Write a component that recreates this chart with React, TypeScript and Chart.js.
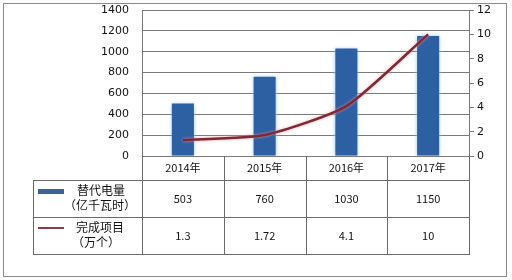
import React, { useEffect, useRef } from "react";
import { Chart, registerables } from "chart.js";

Chart.register(...registerables);

const categories = ["2014年", "2015年", "2016年", "2017年"];
const powerValues = [503, 760, 1030, 1150];
const projectValues = [1.3, 1.72, 4.1, 10];
const powerLabelLines = ["替代电量", "（亿千瓦时）"];
const projectLabelLines = ["完成项目", "（万个）"];
const leftTicksMax = 1400;
const leftTickStep = 200;
const rightTicksMax = 12;
const rightTickStep = 2;

const BAR_COLOR = "#2d5fa3";
const LINE_COLOR = "#7c2a36";
const GRID_COLOR = "#7a7a7a";
const TABLE_COLOR = "#6a6a6a";
const NUM_FONT = '"DejaVu Sans", "Noto Sans CJK SC", sans-serif';
const CJK_FONT = '"Noto Sans CJK SC", "DejaVu Sans", sans-serif';

const tablePlugin = {
  id: "dataTable",
  beforeDatasetDraw(chart: any, args: any) {
    const ctx = chart.ctx;
    ctx.save();
    if (chart.data.datasets[args.index].type === "bar") {
      ctx.shadowColor = "rgba(150,195,240,0.9)";
      ctx.shadowBlur = 4;
    } else {
      ctx.shadowColor = "rgba(245,150,160,0.9)";
      ctx.shadowBlur = 3;
    }
  },
  afterDatasetDraw(chart: any) {
    chart.ctx.restore();
  },
  afterDraw(chart: any) {
    const ctx = chart.ctx as CanvasRenderingContext2D;
    const xs = chart.scales.x;
    const area = chart.chartArea;
    const half = (xs.getPixelForValue(1) - xs.getPixelForValue(0)) / 2;
    const top = Math.round(area.bottom);
    const headerBottom = top + 24;
    const row1Bottom = headerBottom + 37;
    const row2Bottom = row1Bottom + 37;
    const tableLeft = 33;
    const c = (v: number) => Math.round(v) + 0.5;

    ctx.save();
    ctx.strokeStyle = TABLE_COLOR;
    ctx.lineWidth = 1;
    ctx.beginPath();
    [headerBottom, row1Bottom, row2Bottom].forEach((y) => {
      ctx.moveTo(tableLeft, c(y));
      ctx.lineTo(Math.round(area.right) + 1, c(y));
    });
    ctx.moveTo(c(tableLeft), c(headerBottom));
    ctx.lineTo(c(tableLeft), c(row2Bottom));
    const bounds: number[] = [];
    categories.forEach((_, i) => bounds.push(xs.getPixelForValue(i) - half));
    bounds.push(xs.getPixelForValue(categories.length - 1) + half);
    bounds.forEach((bx) => {
      ctx.moveTo(c(bx), top);
      ctx.lineTo(c(bx), c(row2Bottom));
    });
    ctx.stroke();

    ctx.strokeStyle = "#8a8a8a";
    ctx.strokeRect(3.5, 3.5, 503, 273);

    const r1c = (headerBottom + row1Bottom) / 2;
    const r2c = (row1Bottom + row2Bottom) / 2;
    ctx.fillStyle = "#3b6395";
    ctx.fillRect(38, Math.round(r1c) - 10, 26, 5);
    ctx.strokeStyle = "#8a3a46";
    ctx.lineWidth = 2;
    ctx.beginPath();
    ctx.moveTo(38, Math.round(r2c) - 8);
    ctx.lineTo(64, Math.round(r2c) - 8);
    ctx.stroke();

    ctx.fillStyle = "#111";
    ctx.textAlign = "center";
    ctx.textBaseline = "middle";
    ctx.font = "12px " + CJK_FONT;
    ctx.fillText(powerLabelLines[0], 101, r1c - 8);
    ctx.fillText(powerLabelLines[1], 100, r1c + 7);
    ctx.fillText(projectLabelLines[0], 100, r2c - 8);
    ctx.fillText(projectLabelLines[1], 96, r2c + 7);

    ctx.font = "11px " + CJK_FONT;
    categories.forEach((_, i) => {
      const cx = xs.getPixelForValue(i);
      ctx.fillText(String(powerValues[i]), cx, r1c);
      ctx.fillText(String(projectValues[i]), cx, r2c);
    });
    ctx.restore();
  },
};

export default function App() {
  const ref = useRef<HTMLCanvasElement | null>(null);
  useEffect(() => {
    document.body.style.margin = "0";
    const canvas = ref.current!;
    const chart = new Chart(canvas, {
      type: "bar",
      data: {
        labels: categories,
        datasets: [
          {
            type: "line",
            label: projectLabelLines.join(""),
            data: projectValues,
            yAxisID: "y1",
            borderColor: LINE_COLOR,
            borderWidth: 2.5,
            pointRadius: 0,
            tension: 0.2,
            fill: false,
            order: 0,
          } as any,
          {
            type: "bar",
            label: powerLabelLines.join(""),
            data: powerValues,
            yAxisID: "y",
            backgroundColor: BAR_COLOR,
            barPercentage: 0.27,
            categoryPercentage: 1,
            order: 1,
          } as any,
        ],
      },
      options: {
        responsive: false,
        animation: false,
        devicePixelRatio: 1,
        layout: { padding: { top: 0, left: 0, right: 0, bottom: 0 } },
        plugins: { legend: { display: false }, tooltip: { enabled: false } },
        scales: {
          x: {
            grid: { display: false, drawTicks: false },
            border: { display: false },
            ticks: { color: "#111", font: { size: 11, family: CJK_FONT }, padding: 5 },
            afterFit: (s: any) => {
              s.height = 124;
            },
          },
          y: {
            position: "left",
            min: 0,
            max: leftTicksMax,
            ticks: {
              stepSize: leftTickStep,
              color: "#111",
              font: { size: 11, family: NUM_FONT },
              padding: 13,
              callback: (v: any) => String(v),
            },
            grid: { color: GRID_COLOR, drawTicks: false },
            border: { display: true, color: GRID_COLOR },
            afterFit: (s: any) => {
              s.width = 142;
              s.paddingTop = 10;
              s.paddingBottom = 0;
            },
          },
          y1: {
            position: "right",
            min: 0,
            max: rightTicksMax,
            ticks: {
              stepSize: rightTickStep,
              color: "#111",
              font: { size: 11, family: NUM_FONT },
              padding: 3,
              callback: (v: any) => String(v),
            },
            grid: { color: GRID_COLOR, drawOnChartArea: false, drawTicks: true, tickLength: 5 },
            border: { display: true, color: GRID_COLOR },
            afterFit: (s: any) => {
              s.width = 43;
              s.paddingTop = 10;
              s.paddingBottom = 0;
            },
          },
        },
      } as any,
      plugins: [tablePlugin],
    });
    return () => chart.destroy();
  }, []);
  return <canvas ref={ref} width={512} height={280} style={{ display: "block", width: 512, height: 280 }} />;
}
